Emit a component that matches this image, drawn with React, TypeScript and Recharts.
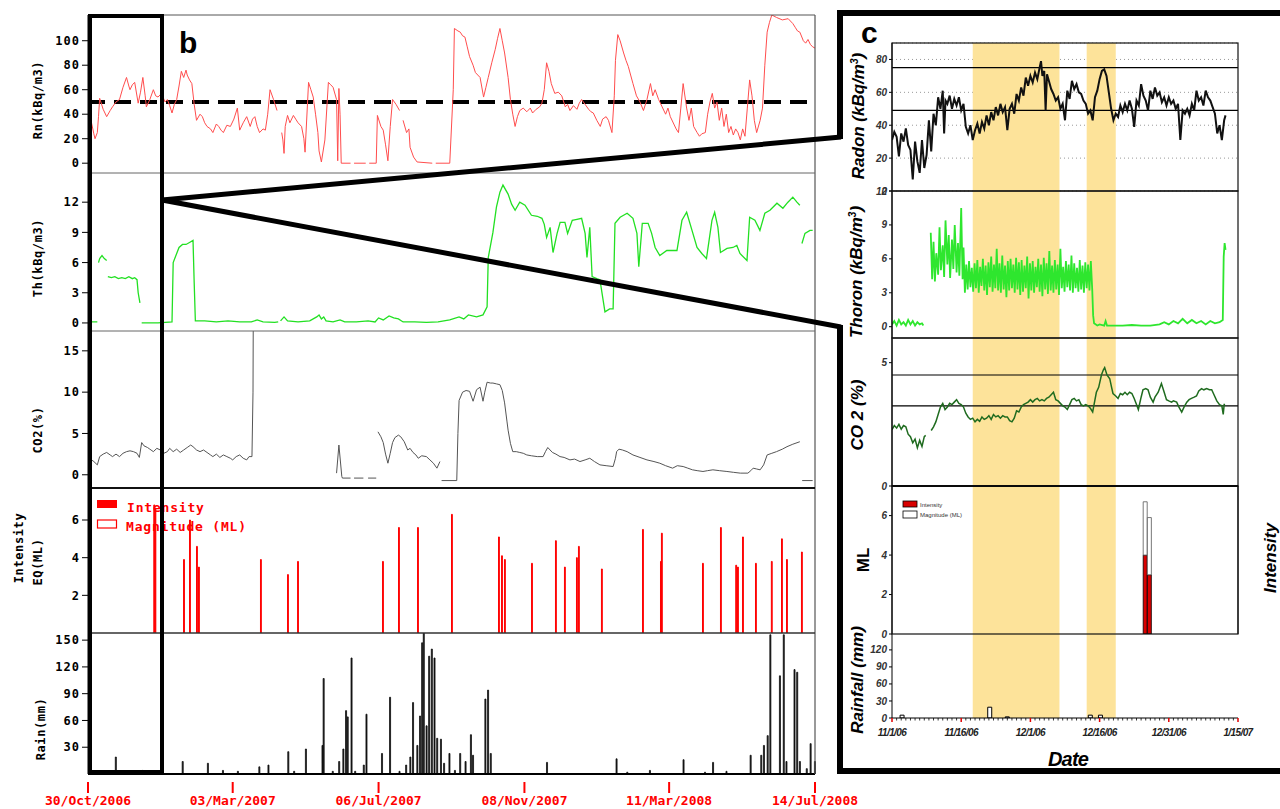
import React from 'react';
import { LineChart, Line, BarChart, Bar, XAxis, YAxis, ReferenceLine, ReferenceArea, CartesianGrid } from 'recharts';

// ---------- panel b : days since 30/Oct/2006 ----------
const bTickDays = [0, 124, 249, 374, 498, 623];
const bTickLabels = ['30/Oct/2006', '03/Mar/2007', '06/Jul/2007', '08/Nov/2007', '11/Mar/2008', '14/Jul/2008'];

type Pt = [number, number | null];

const rnB: Pt[] = [
  [3, 33], [5, 24], [6, 20], [8, 25], [9, 38], [10, 53], [13, 44], [16, 38], [19, 43], [21, 46], [24, 50], [27, 52], [30, 62], [33, 70], [35, 63], [36, 60], [38, 64], [40, 66], [43, 49], [45, 58], [47, 70], [49, 55], [50, 46], [53, 52], [56, 60], [58, 55], [60, 54], [63, 57], [66, 50], [68, 52], [70, 47], [72, 41], [74, 48], [76, 52], [78, 63], [80, 75], [82, 70], [84, 76], [85, 72], [87, 68], [89, 65], [91, 48], [93, 35], [96, 40], [98, 38], [100, 33], [102, 30], [105, 28], [107, 25], [110, 32], [112, 30], [114, 27], [116, 25], [119, 31], [122, 30], [125, 36], [128, 45], [130, 27], [133, 33], [136, 38], [139, 30], [141, 36], [143, 38], [145, 30], [147, 25], [150, 28], [152, 27], [154, 40], [156, 60], [159, 52], [162, 43], [164, null],
  [166, 25], [167, 19], [168, 8], [169, 30], [171, 39], [173, 33], [176, 39], [178, 36], [180, 33], [183, 30], [185, 20], [186, 9], [189, 66], [191, 60], [193, 54], [195, 40], [197, 25], [198, 10], [200, 1], [203, 19], [206, 66], [208, 64], [210, 62], [213, 52], [214, 2], [215, 61], [216, 40], [217, 0], [225, 0], [226, null], [228, 0], [238, 0], [239, null], [241, 0], [247, 0],
  [248, 39], [251, 30], [253, 27], [255, 15], [257, 2], [259, 30], [261, 52], [264, 48], [267, 43], [268, null], [270, 35], [273, 25], [275, 28], [276, 13], [279, 5], [282, 1], [295, 0], [296, null], [298, 0], [310, 0],
  [313, 60], [314, 110], [317, 108], [319, 107], [321, 104], [323, 103], [325, 95], [327, 87], [330, 80], [332, 74], [336, 70], [339, 54], [341, 62], [343, 70], [346, 82], [349, 93], [351, 102], [353, 110], [355, 100], [357, 90], [360, 70], [362, 52], [364, 40], [366, 30], [368, 38], [370, 43], [373, 45], [376, 42], [379, 45], [381, 41], [384, 44], [387, 46], [389, 49], [391, 60], [393, 82], [395, 75], [397, 65], [400, 57], [403, 58], [406, 55], [409, 46], [411, 48], [413, 43], [416, 47], [419, 44], [421, 49], [423, 52], [426, 48], [429, 44], [431, 42], [433, 41], [436, 35], [439, 30], [441, 36], [444, 38], [446, 35], [449, 25],
  [451, 55], [452, 84], [454, 105], [456, 100], [459, 90], [461, 84], [463, 79], [465, 72], [467, 65], [470, 55], [473, 50], [476, 43], [479, 52], [482, 65], [484, 55], [486, 60], [489, 52], [492, 46], [495, 40], [497, 45], [499, 38], [502, 32], [504, 28], [506, 25], [508, 45], [510, 65], [513, 45], [515, 35], [517, 45], [519, 30], [522, 25], [524, 22], [526, 24], [529, 25], [531, 40], [533, 50], [535, 57], [537, 45], [539, 50], [541, 35], [543, 45], [545, 30], [547, 40], [549, 25], [551, 30], [553, 23], [555, 28], [557, 25], [559, 19], [561, 28], [563, 22], [565, 45], [567, 68], [569, 55], [571, 35], [573, 25], [576, 35], [578, 45],
  [580, 80], [582, 107], [584, 115], [586, 121], [590, 119], [595, 117], [600, 118], [604, 114], [606, 111], [608, 108], [610, 107], [613, 100], [615, 98], [617, 101], [619, 97], [621, 95], [623, 94],
];

const thB: Pt[] = [
  [3, 0.1], [8, 0.1], [8.5, null], [9, 6], [10, 6.4], [12, 6.7], [14, 6.4], [16, 6.2], [16.5, null], [17, 4.6], [20, 4.5], [23, 4.6], [26, 4.4], [29, 4.5], [32, 4.4], [35, 4.6], [38, 4.4], [40, 4.5], [42, 4.3], [43, 3], [44.5, 2], [45, null],
  [46, 0], [60, 0], [72, 0.1], [73, 6], [75, 6.6], [78, 7.5], [81, 7.8], [84, 7.8], [87, 8.0], [90, 8.2], [91, 4], [92, 0.2], [100, 0.2], [110, 0.1], [120, 0.2], [130, 0.1], [140, 0.1], [145, 0.3], [150, 0.1], [160, 0.05], [163, 0.1], [164, null],
  [165, 0.2], [168, 0.6], [171, 0.2], [180, 0.1], [190, 0.2], [196, 0.6], [198, 0.8], [200, 0.4], [202, 0.6], [204, 0.2], [210, 0.1], [216, 0.3], [220, 0.1], [230, 0.1], [240, 0.2], [246, 0.1], [249, 0.5], [253, 0.3], [258, 0.7], [262, 0.5], [266, 0.4], [270, 0.1], [280, 0.1], [290, 0.05], [300, 0.1], [310, 0.3], [318, 0.6], [322, 0.4], [326, 0.8], [333, 0.6], [338.5, 0.8], [342, 1.6],
  [343, 6.5], [347, 9], [350, 11.5], [353, 13], [355.6, 13.7], [360, 12.8], [363, 11.8], [366, 11.2], [370, 12], [374.5, 11.7], [380, 10.7], [385, 10.6], [389, 10.4], [391, 9.8], [393, 8.5], [396, 9.5], [398.5, 7], [402, 8.9], [404.6, 10], [408.7, 10], [411, 8.9], [415, 10.2], [419, 10.3], [423, 10.4], [426, 8.9], [427.6, 6.5], [430, 9.5], [432, 4.6], [436, 4.4], [438.7, 4.3], [443, 1.1], [447, 1.4], [450, 1.4],
  [451.6, 9.9], [456, 10.5], [462, 10.9], [467, 10.4], [470.4, 8.9], [472, 5.6], [475, 9.9], [480, 9.9], [483, 8.9], [486, 7.5], [490, 6.7], [496, 7.2], [504.7, 7.2], [509, 10.2], [513, 11], [517.6, 9.2], [521.9, 7.5], [526, 6.9], [530, 6.4], [534.7, 10.2], [537, 11], [539.8, 9.5], [542, 7.0], [547.6, 7.4], [552.7, 7.5], [556, 7.7], [558.7, 6.9], [564.7, 6.2], [567, 10.5], [571.5, 10.2], [575.8, 9.2], [580, 10.9], [584.4, 11.2], [590.4, 11.9], [595.5, 11.4], [599.8, 12], [604, 12.5], [607.5, 12], [610, 11.7], [611, null],
  [611.8, 7.9], [614.4, 8.9], [618.7, 9.2], [621, 9.2],
];

const co2B: Pt[] = [
  [3, 1.8], [5, 1.6], [8, 1.2], [10, 2.2], [13, 2.5], [16, 2.7], [19, 2.4], [21, 2.2], [24, 2.5], [27, 2.2], [30, 2.6], [33, 2.8], [36, 2.9], [39, 2.8], [42, 2.6], [44, 2.1], [46, 3.9], [48, 3.5], [51, 3.3], [53, 3.1], [56, 2.8], [59, 3.2], [62, 3.0], [65, 2.6], [68, 2.8], [70, 3.2], [73, 2.8], [76, 3.1], [79, 2.7], [82, 3.0], [85, 3.3], [88, 3.6], [90, 3.4], [93, 3.0], [96, 2.8], [99, 3.0], [102, 2.7], [105, 2.4], [107, 2.2], [110, 2.5], [113, 2.1], [116, 2.4], [119, 2.2], [122, 2.0], [124, 1.8], [127, 2.2], [130, 2.4], [133, 2.0], [136, 1.8], [138, 2.2], [140.5, 2.2], [141.4, 10], [141.6, 18], [142, null],
  [213, 0.2], [215, 3.6], [217.5, -0.2], [218, -0.4], [225, -0.4], [226, null], [228, -0.4], [236, -0.4], [237, null], [240, -0.4], [247, -0.4], [248, null],
  [248.5, 5.2], [251, 4.6], [253, 3.9], [255, 2.5], [257, 1.4], [259, 2.6], [261, 3.9], [263, 4.5], [266, 4.8], [268, 4.6], [271, 4.0], [274, 3.0], [276, 3.2], [278.5, 2.7], [281, 2.4], [283, 2.0], [286, 2.3], [290, 2.2], [293, 1.8], [296, 1.4], [299, 0.8], [301.6, 1.6], [302, null],
  [303, -0.7], [316, -0.7], [317, 5], [318, 9.0], [321, 10.0], [324, 10.2], [327, 10.1], [330, 8.9], [333, 10.3], [336, 10.6], [338.5, 8.9], [340, 10], [342, 11.2], [345, 11.1], [347, 11.1], [350, 11.0], [353, 10.9], [355, 10.2], [357, 8.7], [359, 6.5], [360, 5.4], [362, 3.8], [364, 2.8], [367, 2.8], [370, 2.7], [373, 2.6], [376, 2.4], [380, 2.3], [385, 2.2], [390, 2.2], [392, 2.8], [394, 3.3], [396, 3.0], [398, 2.7], [401, 2.5], [404.5, 2.2], [408, 2.1], [413, 1.8], [417, 1.9], [421.6, 1.6], [426, 1.8], [430, 2.0], [434, 1.6], [438.7, 1.2], [444, 1.1], [450, 1.0], [452, 2.0], [453, 2.8], [455, 3.1], [458, 3.0], [462, 2.8], [467, 2.4], [473, 2.1], [479, 1.8], [485, 1.6], [490, 1.4], [495, 1.1], [501, 0.8], [505, 1.1], [510, 1.0], [514, 0.8], [518, 0.6], [522, 0.5], [527, 0.4], [531, 0.5], [535.5, 0.6], [541, 0.5], [547.5, 0.4], [553, 0.3], [559, 0.2], [565.5, 0.2], [568, 0.5], [570, 0.8], [573, 0.7], [576, 0.6], [579, 1.2], [582, 2.4], [586, 2.6], [590, 2.8], [595, 3.1], [599, 3.4], [604, 3.7], [610, 4.0], [611, null],
  [612, -0.7], [621, -0.7],
];

// earthquakes: [day, magnitude ML]
const eqB: [number, number][] = [
  [56.8, 6.8], [57.8, 6.6], [82.3, 3.9], [87.4, 6.0], [93.4, 4.6], [95.1, 3.5], [148.2, 3.9], [171.4, 3.1], [180, 3.8], [252.8, 3.8], [266.5, 5.6], [282.8, 5.6], [311.9, 6.3], [352.2, 5.1], [354.8, 4.1], [357.3, 3.9], [380.5, 3.7], [401, 4.9], [408.7, 3.5], [419, 4.0], [420.7, 4.6], [440.4, 3.4], [475.6, 5.5], [491, 3.8], [491.8, 5.3], [527, 3.7], [542.4, 5.6], [555.5, 3.6], [557, 3.5], [561.3, 5.1], [572.4, 3.7], [586, 3.8], [594.7, 5.0], [599, 3.9], [611.8, 4.3],
];

// daily rain: [day, mm]
const rainB: [number, number][] = [
  [23.9, 19], [46.8, 4], [81.2, 14], [102.8, 12], [115.7, 4], [128.5, 3], [146.9, 8], [154.7, 10], [171.7, 25], [176.7, 3], [186.8, 28], [201, 32], [202, 107], [209.8, 3], [215.3, 14], [218.9, 28], [221.2, 71], [222.6, 64], [225.9, 130], [229, 3], [236.4, 10], [238.7, 67], [252, 23], [258.9, 86], [267, 3], [272.7, 10], [276.3, 19], [278.6, 80], [282.3, 32], [284.6, 65], [286.4, 147], [287.8, 158], [290.2, 54], [292.4, 132], [294.7, 140], [297, 130], [299.3, 40], [302.5, 39], [305.2, 12], [309.8, 23], [314.5, 4], [319, 23], [323.6, 14], [328.2, 44], [330, 21], [340.6, 84], [342.9, 94], [345.2, 23], [393.4, 13], [453, 17], [462.2, 2], [481.6, 4], [510.4, 16], [528.8, 2], [535.7, 13], [547.2, 3], [567.9, 21], [577, 21], [579.3, 32], [582.5, 43], [584.8, 156], [593, 110], [596.3, 156], [598.6, 14], [605.5, 117], [607.8, 114], [610.1, 14], [616, 6], [619.3, 34], [623, 14],
];

// ---------- panel c : days since 11/1/06 ----------
const cTickDays = [0, 15, 30, 45, 60, 75];
const cTickLabels = ['11/1/06', '11/16/06', '12/1/06', '12/16/06', '12/31/06', '1/15/07'];
const cDayTicks = Array.from({ length: 76 }, (_, i) => i); // a small tick every day, labels only on cTickDays
const cBands: [number, number][] = [[17.5, 36.3], [42.2, 48.5]];

const radonC: Pt[] = [
  [0, 31], [0.5, 36], [1, 33], [1.5, 21], [2, 35], [2.5, 30], [3, 38], [3.5, 28], [4, 25], [4.5, 7], [5, 30], [5.5, 18], [6, 11], [6.5, 31], [7, 14], [7.5, 22], [8, 43], [8.5, 24], [9, 47], [9.5, 40], [10, 57], [10.5, 50], [11, 61], [11.3, 35], [11.6, 55], [12, 53], [12.5, 58], [13, 50], [13.5, 56], [14, 52], [14.5, 57], [15, 49], [15.5, 53], [16, 39], [16.5, 35], [17, 40], [17.5, 31], [18, 37], [18.5, 41], [19, 35], [19.5, 42], [20, 38], [20.5, 46], [21, 40], [21.5, 48], [22, 43], [22.5, 51], [23, 46], [23.5, 53], [24, 48], [24.5, 51], [25, 37], [25.5, 50], [26, 53], [26.5, 47], [27, 59], [27.5, 55], [28, 63], [28.5, 58], [29, 69], [29.5, 64], [30, 70], [30.5, 66], [31, 72], [31.5, 68], [32, 75], [32.3, 79], [32.6, 70], [33, 73], [33.3, 49], [33.6, 71], [34, 67], [34.5, 62], [35, 59], [35.5, 55], [36, 57], [36.5, 50], [37, 53], [37.5, 43], [38, 61], [38.5, 56], [39, 67], [39.5, 62], [40, 65], [40.5, 60], [41, 59], [41.5, 55], [42, 53], [42.5, 47], [43, 49], [43.5, 43], [44, 57], [44.5, 61], [45, 68], [45.5, 73], [46, 74], [46.5, 70], [47, 60], [47.5, 50], [48, 43], [48.5, 47], [49, 45], [49.5, 52], [50, 48], [50.5, 53], [51, 49], [51.5, 55], [52, 50], [52.5, 39], [53, 55], [53.5, 52], [54, 65], [54.5, 58], [55, 55], [55.5, 49], [56, 61], [56.5, 56], [57, 63], [57.5, 58], [58, 60], [58.5, 54], [59, 57], [59.5, 52], [60, 57], [60.5, 53], [61, 55], [61.5, 50], [62, 53], [62.5, 31], [63, 49], [63.5, 47], [64, 50], [64.5, 46], [65, 53], [65.5, 49], [66, 61], [66.5, 55], [67, 57], [67.5, 52], [68, 61], [68.5, 57], [69, 55], [69.5, 51], [70, 47], [70.5, 35], [71, 40], [71.5, 31], [72, 43], [72.3, 46],
];

const thoronC: Pt[] = [
  [0, 0.2], [0.5, 0.5], [1, 0.1], [1.5, 0.6], [2, 0.2], [2.5, 0.4], [3, 0.1], [3.5, 0.6], [4, 0.2], [4.5, 0.5], [5, 0.1], [5.5, 0.4], [6, 0.2], [6.5, 0.3], [6.8, 0.1], [7, null],
  [8.4, 8.3], [8.7, 4.2], [9, 7.5], [9.3, 4.0], [9.6, 6.5], [10, 4.6], [10.3, 8.8], [10.6, 5.0], [11, 7.2], [11.3, 4.4], [11.6, 9.4], [12, 5.5], [12.3, 8.1], [12.6, 4.3], [13, 7.7], [13.3, 5.1], [13.6, 9.0], [14, 4.8], [14.3, 7.4], [14.6, 4.5], [15, 10.5], [15.3, 4.2], [15.5, 7.0],
  [15.8, 3.0], [16.1, 5.5], [16.4, 3.3], [16.7, 5.8], [17, 3.5], [17.3, 5.2], [17.6, 3.1], [17.9, 5.6], [18.2, 3.4], [18.5, 5.9], [18.8, 3.0], [19.1, 5.3], [19.4, 3.6], [19.7, 6.0], [20, 3.2], [20.3, 5.4], [20.6, 2.8], [20.9, 5.7], [21.2, 3.5], [21.5, 6.2], [21.8, 3.1], [22.1, 5.5], [22.4, 3.4], [22.7, 6.9], [23, 3.2], [23.3, 5.6], [23.6, 3.0], [23.9, 6.3], [24.2, 3.3], [24.5, 5.4], [24.8, 2.6], [25.1, 5.8], [25.4, 3.2], [25.7, 6.0], [26, 3.4], [26.3, 5.5], [26.6, 3.0], [26.9, 6.1], [27.2, 3.3], [27.5, 5.7], [27.8, 2.8], [28.1, 5.9], [28.4, 3.1], [28.7, 5.4], [29, 3.4], [29.3, 6.2], [29.6, 2.5], [29.9, 5.6], [30.2, 3.2], [30.5, 5.8], [30.8, 3.0], [31.1, 5.3], [31.4, 3.5], [31.7, 6.0], [32, 3.1], [32.3, 5.5], [32.6, 2.7], [32.9, 6.1], [33.2, 3.3], [33.5, 5.6], [33.8, 2.9], [34.1, 6.7], [34.4, 3.2], [34.7, 5.4], [35, 3.0], [35.3, 5.9], [35.6, 3.3], [35.9, 5.5], [36.2, 2.8], [36.5, 6.9], [36.8, 3.4], [37.1, 5.3], [37.4, 3.1], [37.7, 5.8], [38, 3.5], [38.3, 5.5], [38.6, 3.2], [38.9, 6.3], [39.2, 3.0], [39.5, 5.6], [39.8, 3.4], [40.1, 5.2], [40.4, 3.1], [40.7, 5.9], [41, 3.3], [41.3, 5.4], [41.6, 3.0], [41.9, 5.7], [42.2, 3.4], [42.5, 5.5], [42.8, 3.2], [43.1, 5.8], [43.4, 3.3],
  [43.6, 1.0], [43.8, 0.3], [44.5, 0.1], [45, 0.2], [46, 0.1], [46.3, 0.5], [46.6, 0.1], [48, 0.1], [50, 0.1], [52, 0.15], [54, 0.1], [56, 0.1], [58, 0.2], [59, 0.4], [60, 0.2], [61, 0.5], [62, 0.3], [63, 0.7], [64, 0.3], [65, 0.6], [66, 0.3], [67, 0.5], [68, 0.2], [69, 0.5], [70, 0.3], [71, 0.4], [71.7, 0.6], [71.9, 6.2], [72.1, 7.4], [72.3, 6.8],
];

const co2C: Pt[] = [
  [0, 2.28], [0.5, 2.45], [1, 2.35], [1.5, 2.5], [2, 2.3], [2.5, 2.45], [3, 2.4], [3.5, 2.1], [4, 2.0], [4.5, 1.75], [5, 1.9], [5.5, 1.55], [6, 1.85], [6.5, 1.6], [7, 2.0], [7.3, 2.05], [7.5, null],
  [8.5, 2.25], [9, 2.4], [9.5, 2.6], [10, 2.9], [10.5, 3.2], [11, 3.35], [11.5, 3.1], [12, 3.2], [12.5, 3.35], [13, 3.3], [13.5, 3.4], [14, 3.5], [14.5, 3.35], [15, 3.3], [15.5, 3.2], [16, 2.95], [16.5, 2.8], [17, 2.7], [17.5, 2.75], [18, 2.6], [18.5, 2.7], [19, 2.62], [19.5, 2.8], [20, 2.7], [20.5, 2.75], [21, 2.85], [21.5, 2.7], [22, 2.9], [22.5, 2.8], [23, 2.85], [23.5, 2.75], [24, 2.85], [24.5, 2.8], [25, 2.8], [25.5, 2.65], [26, 2.6], [26.5, 2.75], [27, 3.05], [27.5, 3.0], [28, 3.2], [28.5, 3.3], [29, 3.35], [29.5, 3.4], [30, 3.5], [30.5, 3.4], [31, 3.5], [31.5, 3.55], [32, 3.45], [32.5, 3.5], [33, 3.45], [33.5, 3.55], [34, 3.6], [34.5, 3.7], [35, 3.8], [35.5, 3.5], [36, 3.45], [36.5, 3.35], [37, 3.25], [37.5, 3.2], [38, 3.1], [38.5, 3.3], [39, 3.5], [39.5, 3.55], [40, 3.45], [40.5, 3.5], [41, 3.3], [41.5, 3.25], [42, 3.3], [42.5, 3.25], [43, 3.15], [43.5, 3.0], [44, 3.5], [44.3, 3.8], [44.8, 4.0], [45.4, 4.5], [45.8, 4.7], [46.1, 4.8], [46.6, 4.5], [47.2, 4.35], [47.6, 4.0], [47.9, 3.75], [48.5, 3.65], [49, 3.55], [49.5, 3.75], [50, 3.7], [50.5, 3.8], [51, 3.7], [51.5, 3.8], [52, 3.75], [52.5, 3.55], [53, 3.3], [53.4, 3.1], [54, 3.6], [54.4, 3.9], [55, 3.95], [55.5, 3.9], [56, 3.6], [56.6, 3.4], [57, 3.6], [57.7, 3.8], [58.4, 4.15], [59, 3.8], [59.5, 3.5], [60, 3.45], [60.6, 3.4], [61, 3.45], [61.7, 3.4], [62.2, 3.2], [62.8, 3.0], [63.3, 3.2], [63.9, 3.4], [64.4, 3.5], [64.9, 3.55], [65.5, 3.6], [66, 3.65], [66.5, 3.85], [67.1, 3.95], [67.6, 3.9], [68.2, 3.95], [68.8, 3.9], [69.3, 3.9], [69.8, 3.7], [70.4, 3.45], [71, 3.3], [71.5, 3.25], [71.8, 2.9], [72, 3.3], [72.2, 3.3],
];

const mlDays = [54.9, 55.8];
const mlMagnitude = [6.7, 5.9];
const mlIntensity = [4, 3];

const rainC: [number, number][] = [[2.2, 5], [21.2, 19], [25, 2], [43, 5], [45.2, 5]];

// ---------- helpers ----------
const rows = (pts: Pt[]) => pts.map(([day, v]) => ({ day, v }));
const MONO = 'DejaVu Sans Mono, monospace';
const SANS = 'Liberation Sans, Arial, sans-serif';
const bTick = { fontSize: 12, fontFamily: MONO, fontWeight: 700, fill: '#000', letterSpacing: 1 };
const cTick = { fontSize: 10, fontFamily: SANS, fontWeight: 700, fontStyle: 'italic', fill: '#333' };

const pos = (left: number, top: number): React.CSSProperties => ({ position: 'absolute', left, top });

const BDateTick = (props: any) => {
  const { x, y, payload } = props;
  const label = bTickLabels[bTickDays.indexOf(payload.value)];
  return (
    <g>
      <line x1={x} x2={x} y1={y + 8} y2={y + 19} stroke="#ff0000" strokeWidth={2} />
      <text x={x} y={y + 31} textAnchor="middle" fill="#ff0000" fontSize={13} fontWeight={700} fontFamily={MONO}>
        {label}
      </text>
    </g>
  );
};

// panel c date axis: red tick + label on the major days, a small black tick on every other day
const CDateTick = (props: any) => {
  const { x, y, payload } = props;
  const i = cTickDays.indexOf(payload.value);
  if (i < 0) return <line x1={x} x2={x} y1={y} y2={y + 2.5} stroke="#000" strokeWidth={0.8} />;
  return (
    <g>
      <line x1={x} x2={x} y1={y} y2={y + 4} stroke="#e00000" strokeWidth={1.5} />
      <text
        x={x}
        y={y + 18}
        textAnchor="middle"
        fill="#222"
        fontSize={10}
        fontWeight={700}
        fontStyle="italic"
        fontFamily={SANS}
        letterSpacing={-0.6}
      >
        {cTickLabels[i]}
      </text>
    </g>
  );
};

const bX = () => <XAxis type="number" dataKey="day" domain={[0, 623]} allowDataOverflow hide />;

const bY = (domain: [number, number], ticks: number[]) => (
  <YAxis
    width={88}
    domain={domain}
    ticks={ticks}
    interval={0}
    allowDataOverflow
    tick={bTick}
    tickSize={6}
    axisLine={{ stroke: '#000' }}
    tickLine={{ stroke: '#000' }}
  />
);

const cX = () => <XAxis type="number" dataKey="day" domain={[0, 75]} allowDataOverflow hide />;

const cY = (domain: [number, number], ticks: number[]) => (
  <YAxis
    width={62}
    domain={domain}
    ticks={ticks}
    interval={0}
    allowDataOverflow
    tick={cTick}
    tickSize={3}
    axisLine={{ stroke: '#000' }}
    tickLine={{ stroke: '#000' }}
  />
);

const bands = () =>
  cBands.map(([a, b], i) => (
    <ReferenceArea key={`band-${i}`} x1={a} x2={b} fill="#fde39a" fillOpacity={1} stroke="none" />
  ));

const B_MARGIN = { top: 0, right: 15, bottom: 0, left: 0 };
const C_MARGIN = { top: 0, right: 42, bottom: 0, left: 0 };

export default function App() {
  const eqRows = eqB.map(([day, v]) => ({ day, v }));
  const rainRows = rainB.map(([day, v]) => ({ day, v }));
  const mlRows = mlDays.map((day, i) => ({ day, intensity: mlIntensity[i], rest: mlMagnitude[i] - mlIntensity[i] }));
  const rainCRows = rainC.map(([day, v]) => ({ day, v }));

  return (
    <div style={{ position: 'absolute', left: 0, top: 0, width: 1280, height: 809, background: '#fff', overflow: 'hidden' }}>
      <style>{'.recharts-surface{overflow:visible}'}</style>
      {/* ---------------- panel b ---------------- */}
      <div style={pos(0, 15)}>
        <LineChart width={830} height={158} data={rows(rnB)} margin={B_MARGIN}>
          {bX()}
          {bY([-8, 121], [0, 20, 40, 60, 80, 100])}
          <ReferenceLine y={50} stroke="#000" strokeWidth={4} strokeDasharray="17 9" />
          <Line dataKey="v" stroke="#ff4d4d" strokeWidth={1} dot={false} isAnimationActive={false} connectNulls={false} />
        </LineChart>
      </div>
      <div style={pos(0, 173)}>
        <LineChart width={830} height={158} data={rows(thB)} margin={B_MARGIN}>
          {bX()}
          {bY([-0.8, 14.9], [0, 3, 6, 9, 12])}
          <Line dataKey="v" stroke="#22e022" strokeWidth={1.3} dot={false} isAnimationActive={false} connectNulls={false} />
        </LineChart>
      </div>
      <div style={pos(0, 331)}>
        <LineChart width={830} height={157} data={rows(co2B)} margin={B_MARGIN}>
          {bX()}
          {bY([-1.6, 17.4], [0, 5, 10, 15])}
          <Line dataKey="v" stroke="#555" strokeWidth={1} dot={false} isAnimationActive={false} connectNulls={false} />
        </LineChart>
      </div>
      <div style={pos(0, 488)}>
        <BarChart width={830} height={145} data={eqRows} margin={B_MARGIN} barGap={0}>
          {bX()}
          {bY([0, 7.7], [2, 4, 6])}
          <Bar dataKey="v" fill="#ff0000" stroke="#ff0000" strokeWidth={1} barSize={3} isAnimationActive={false} />
        </BarChart>
      </div>
      <div style={pos(0, 633)}>
        <BarChart width={890} height={176} data={rainRows} margin={{ top: 0, right: 75, bottom: 0, left: 0 }}>
          <XAxis
            type="number"
            dataKey="day"
            domain={[0, 623]}
            ticks={bTickDays}
            interval={0}
            height={35}
            tickSize={0}
            tickMargin={0}
            tickLine={false}
            axisLine={{ stroke: '#000', strokeWidth: 2 }}
            tick={<BDateTick />}
          />
          {bY([0, 158], [30, 60, 90, 120, 150])}
          <Bar dataKey="v" fill="#111" stroke="#111" strokeWidth={0.8} barSize={2} isAnimationActive={false} />
        </BarChart>
      </div>

      {/* ---------------- panel c ---------------- */}
      <div style={pos(830, 43)}>
        <LineChart width={450} height={148} data={rows(radonC)} margin={C_MARGIN}>
          {cX()}
          {cY([0, 90], [0, 20, 40, 60, 80])}
          {bands()}
          <CartesianGrid vertical={false} stroke="#999" strokeDasharray="1 3" />
          <ReferenceLine y={75} stroke="#000" strokeWidth={1.2} />
          <ReferenceLine y={49} stroke="#000" strokeWidth={1.2} />
          <Line dataKey="v" stroke="#111" strokeWidth={2} dot={false} isAnimationActive={false} connectNulls={false} />
        </LineChart>
      </div>
      <div style={pos(830, 191)}>
        <LineChart width={450} height={147} data={rows(thoronC)} margin={C_MARGIN}>
          {cX()}
          {cY([-1, 12], [0, 3, 6, 9, 12])}
          {bands()}
          <Line dataKey="v" stroke="#2ee62e" strokeWidth={1.8} dot={false} isAnimationActive={false} connectNulls={false} />
        </LineChart>
      </div>
      <div style={pos(830, 338)}>
        <LineChart width={450} height={148} data={rows(co2C)} margin={C_MARGIN}>
          {cX()}
          {cY([0, 6], [0, 5])}
          {bands()}
          <ReferenceLine y={4.5} stroke="#000" strokeWidth={1.2} />
          <ReferenceLine y={3.25} stroke="#000" strokeWidth={1.2} />
          <Line dataKey="v" stroke="#1f6b1f" strokeWidth={1.5} dot={false} isAnimationActive={false} connectNulls={false} />
        </LineChart>
      </div>
      <div style={pos(830, 486)}>
        <BarChart width={450} height={148} data={mlRows} margin={{ top: 0, right: 12, bottom: 0, left: 0 }}>
          {cX()}
          {cY([0, 7.5], [0, 2, 4, 6])}
          <YAxis
            yAxisId="right"
            orientation="right"
            width={30}
            domain={[0, 7.5]}
            ticks={[0, 2, 4, 6]}
            interval={0}
            tick={cTick}
            tickSize={4}
            axisLine={{ stroke: '#000' }}
            tickLine={{ stroke: '#000' }}
          />
          {bands()}
          <Bar dataKey="intensity" stackId="eq" fill="#d80000" stroke="#000" strokeWidth={0.8} barSize={4} isAnimationActive={false} />
          <Bar dataKey="rest" stackId="eq" fill="#fff" stroke="#555" strokeWidth={0.8} barSize={4} isAnimationActive={false} />
        </BarChart>
      </div>
      <div style={pos(830, 634)}>
        <BarChart width={450} height={114} data={rainCRows} margin={C_MARGIN}>
          <XAxis
            type="number"
            dataKey="day"
            domain={[0, 75]}
            ticks={cDayTicks}
            interval={0}
            height={30}
            tickSize={0}
            tickMargin={0}
            tickLine={false}
            axisLine={{ stroke: '#000', strokeWidth: 1.2 }}
            tick={<CDateTick />}
          />
          {cY([0, 148], [0, 30, 60, 90, 120])}
          {bands()}
          <Bar dataKey="v" fill="#fff" stroke="#000" strokeWidth={1} barSize={4} isAnimationActive={false} />
        </BarChart>
      </div>

      {/* ---------------- frames, titles, zoom lines ---------------- */}
      <svg width={1280} height={809} style={{ position: 'absolute', left: 0, top: 0, pointerEvents: 'none' }}>
        {/* panel b frame */}
        <line x1={88} x2={815} y1={15} y2={15} stroke="#555" strokeWidth={1} />
        <line x1={815} x2={815} y1={15} y2={774} stroke="#555" strokeWidth={1.2} />
        <line x1={88} x2={815} y1={173} y2={173} stroke="#666" strokeWidth={1} />
        <line x1={88} x2={815} y1={331} y2={331} stroke="#666" strokeWidth={1} />
        <line x1={88} x2={815} y1={488} y2={488} stroke="#111" strokeWidth={2} />
        <line x1={88} x2={815} y1={633} y2={633} stroke="#333" strokeWidth={1.5} />

        <text x={179} y={53} fontFamily={SANS} fontWeight={700} fontSize={30} fill="#000">b</text>

        <g fontFamily={MONO} fontWeight={700} fontSize={12} fill="#000" letterSpacing={0.6}>
          <text transform="translate(42,100) rotate(-90)" textAnchor="middle">Rn(kBq/m3)</text>
          <text transform="translate(42,258) rotate(-90)" textAnchor="middle">Th(kBq/m3)</text>
          <text transform="translate(42,430) rotate(-90)" textAnchor="middle">CO2(%)</text>
          <text transform="translate(23,548) rotate(-90)" textAnchor="middle">Intensity</text>
          <text transform="translate(42,562) rotate(-90)" textAnchor="middle">EQ(ML)</text>
          <text transform="translate(45,729) rotate(-90)" textAnchor="middle">Rain(mm)</text>
        </g>

        {/* EQ legend */}
        <rect x={97} y={500} width={20} height={8} fill="#ff0000" />
        <rect x={97.5} y={520} width={19} height={8} fill="#fff" stroke="#ff0000" strokeWidth={1.2} />
        <g fontFamily={MONO} fontWeight={700} fontSize={13} fill="#ff0000" letterSpacing={0.8}>
          <text x={127} y={512}>Intensity</text>
          <text x={126} y={531}>Magnitude (ML)</text>
        </g>

        {/* highlighted window */}
        <rect x={90} y={16} width={72} height={756} fill="none" stroke="#000" strokeWidth={4} />

        {/* zoom lines */}
        <line x1={162} y1={200} x2={841} y2={137} stroke="#000" strokeWidth={5} />
        <line x1={162} y1={200} x2={841} y2={327} stroke="#000" strokeWidth={5} />

        {/* panel c outer frame */}
        <polyline points="840,139 840,13 1290,13" fill="none" stroke="#000" strokeWidth={6} />
        <polyline points="840,325 840,771 1290,771" fill="none" stroke="#000" strokeWidth={6} />

        {/* panel c boxes */}
        <rect x={892} y={43} width={346} height={148} fill="none" stroke="#111" strokeWidth={1.2} />
        <rect x={892} y={191} width={346} height={147} fill="none" stroke="#111" strokeWidth={1.2} />
        <rect x={892} y={338} width={346} height={148} fill="none" stroke="#111" strokeWidth={1.2} />
        <line x1={892} x2={1238} y1={486} y2={486} stroke="#000" strokeWidth={2} />
        <rect x={892} y={486} width={346} height={148} fill="none" stroke="#111" strokeWidth={1.2} />

        <text x={861} y={43} fontFamily={SANS} fontWeight={700} fontSize={30} fill="#000">c</text>

        <g fontFamily={SANS} fontWeight={700} fontStyle="italic" fontSize={17} fill="#000">
          <text transform="translate(864,116) rotate(-90)" textAnchor="middle">
            Radon (kBq/m<tspan dy={-6} fontSize={10}>3</tspan><tspan dy={6}>)</tspan>
          </text>
          <text transform="translate(862,272) rotate(-90)" textAnchor="middle">
            Thoron (kBq/m<tspan dy={-6} fontSize={10}>3</tspan><tspan dy={6}>)</tspan>
          </text>
          <text transform="translate(863,415) rotate(-90)" textAnchor="middle">CO 2 (%)</text>
          <text transform="translate(863,680) rotate(-90)" textAnchor="middle">Rainfall (mm)</text>
          <text transform="translate(1276,558) rotate(-90)" textAnchor="middle">Intensity</text>
          <text x={1068} y={766} textAnchor="middle" fontSize={20} letterSpacing={-0.8}>Date</text>
        </g>
        <text transform="translate(869,560) rotate(-90)" textAnchor="middle" fontFamily={SANS} fontWeight={700} fontSize={17} fill="#000">ML</text>

        {/* ML legend */}
        <rect x={903} y={501} width={14} height={6} fill="#d80000" stroke="#000" strokeWidth={0.8} />
        <rect x={903} y={511} width={14} height={7} fill="#fff" stroke="#000" strokeWidth={0.8} />
        <g fontFamily={SANS} fontSize={6} fill="#333">
          <text x={920} y={507}>Intensity</text>
          <text x={920} y={517}>Magnitude (ML)</text>
        </g>
      </svg>
    </div>
  );
}
